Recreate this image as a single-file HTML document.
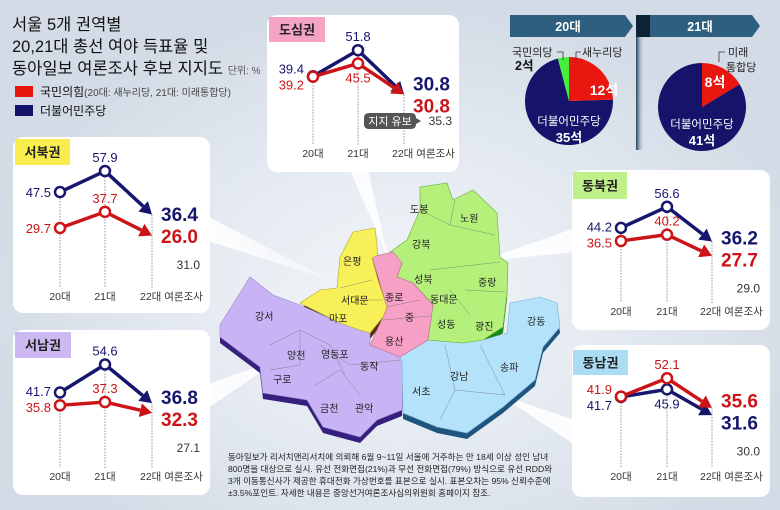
<!DOCTYPE html>
<html><head><meta charset="utf-8">
<style>
html,body{margin:0;padding:0}
body{width:780px;height:510px;overflow:hidden;position:relative;font-family:"Liberation Sans","Noto Sans CJK KR",sans-serif;
background:radial-gradient(ellipse 420px 300px at 400px 300px,#f3f6fa 0%,#e3e9f0 55%,#d3dbe6 100%);}
svg{position:absolute;left:0;top:0}
</style></head>
<body>
<svg id="main" width="780" height="510" viewBox="0 0 780 510" font-family="Liberation Sans, Noto Sans CJK KR, sans-serif">
<defs>
<linearGradient id="beam" x1="0" y1="0" x2="1" y2="0"><stop offset="0" stop-color="#fff" stop-opacity="0.95"/><stop offset="1" stop-color="#fff" stop-opacity="0.3"/></linearGradient>
<linearGradient id="div" x1="0" y1="0" x2="1" y2="0"><stop offset="0" stop-color="#1a3d5c"/><stop offset="1" stop-color="#c8d4e0" stop-opacity="0"/></linearGradient>
</defs>
<!-- title -->
<g font-size="16.5" fill="#111">
<text x="12" y="30">서울 5개 권역별</text>
<text x="12" y="52">20,21대 총선 여야 득표율 및</text>
<text x="12" y="74">동아일보 여론조사 후보 지지도 <tspan font-size="10" fill="#555">단위: %</tspan></text>
</g>
<g>
<rect x="15" y="86" width="18" height="11" fill="#e8150f"/>
<text x="40" y="96" font-size="12" fill="#111">국민의힘<tspan font-size="10" fill="#444">(20대: 새누리당, 21대: 미래통합당)</tspan></text>
<rect x="15" y="105" width="18" height="11" fill="#12126a"/>
<text x="40" y="115" font-size="12" fill="#111">더불어민주당</text>
</g>

<!-- seat pies -->
<g>
<path d="M510 15 H625 L633 26 L625 37 H510 Z" fill="#2f5f7e"/>
<text x="568" y="31" font-size="12.5" fill="#fff" text-anchor="middle" font-weight="bold">20대</text>
<rect x="636" y="15" width="8" height="135" fill="url(#div)"/>
<path d="M636 15 H752 L760 26 L752 37 H636 Z" fill="#2f5f7e"/>
<rect x="636" y="15" width="14" height="22" fill="#0e2236"/>
<text x="700" y="31" font-size="12.5" fill="#fff" text-anchor="middle" font-weight="bold">21대</text>
<g id="pies"></g>
</g>

<!-- beams -->
<g>
<polygon points="205,215 205,240 330,280" fill="url(#beam)"/>
<polygon points="350,170 368,170 388,258" fill="#fff" opacity="0.85"/>
<polygon points="575,228 575,252 478,262" fill="#fff" opacity="0.85"/>
<polygon points="205,385 205,410 282,358" fill="#fff" opacity="0.85"/>
<polygon points="575,420 575,445 500,395" fill="#fff" opacity="0.85"/>
</g>

<!-- map -->
<g font-size="10" fill="#222">
<g transform="translate(0,6)">
<polygon points="220,325 250,277 273,295 300,305 340,323 370,333 370,345 400,357 403,363 402,410 377,420 360,437 323,427 307,400 263,393 260,367 220,337" fill="#35207e"/>
<polygon points="428,340 463,343 483,340 507,333 510,303 540,297 557,303 560,327 543,347 535,380 503,407 467,433 437,427 403,413 402,363 400,357" fill="#1d5480"/>
<polygon points="390,252 407,240 420,210 420,187 447,183 453,200 473,190 497,213 500,257 508,263 507,293 503,327 483,340 463,343 428,340 433,305 413,283 397,277 402,263" fill="#178a1a"/>
<polygon points="372,257 393,252 402,263 397,277 413,283 433,305 428,340 400,357 370,345 383,317 387,307" fill="#6d0f30"/>
<polygon points="300,303 320,290 337,288 340,257 353,232 375,228 378,255 372,258 378,280 387,307 383,317 370,333 360,330 340,323" fill="#5a2e0c"/>
</g>
<polygon points="220,325 250,277 273,295 300,305 340,323 370,333 370,345 400,357 403,363 402,410 377,420 360,437 323,427 307,400 263,393 260,367 220,337" fill="#c8b4f4" stroke="#9a86cc" stroke-width="0.6"/>
<polygon points="428,340 463,343 483,340 507,333 510,303 540,297 557,303 560,327 543,347 535,380 503,407 467,433 437,427 403,413 402,363 400,357" fill="#b4e2fa" stroke="#7ab0d0" stroke-width="0.6"/>
<polygon points="390,252 407,240 420,210 420,187 447,183 453,200 473,190 497,213 500,257 508,263 507,293 503,327 483,340 463,343 428,340 433,305 413,283 397,277 402,263" fill="#b4f07a" stroke="#6aaa3a" stroke-width="0.6"/>
<polygon points="372,257 393,252 402,263 397,277 413,283 433,305 428,340 400,357 370,345 383,317 387,307" fill="#f6a0c6" stroke="#c06a90" stroke-width="0.6"/>
<polygon points="300,303 320,290 337,288 340,257 353,232 375,228 378,255 372,258 378,280 387,307 383,317 370,333 360,330 340,323" fill="#f8f058" stroke="#b0a830" stroke-width="0.6"/>
<g fill="none" stroke="#666" stroke-width="0.5" opacity="0.7">
<path d="M340,288 L372,280 M355,300 L383,300 M387,307 L420,300 M383,320 L430,316 M420,210 L450,225 L455,200 M450,225 L495,235 M430,270 L500,262 M450,290 L470,315 M465,290 L505,292 M270,345 L300,330 L330,345 L345,375 M300,330 L300,365 L270,370 M320,345 L350,365 L400,360 M315,385 L340,370 L360,395 M445,345 L455,390 L440,420 M480,345 L505,395 M455,390 L505,395"/>
</g>
<text x="410" y="213">도봉</text><text x="460" y="222">노원</text><text x="412" y="248">강북</text>
<text x="343" y="265">은평</text><text x="414" y="283">성북</text><text x="478" y="286">중랑</text>
<text x="341" y="304">서대문</text><text x="385" y="301">종로</text><text x="430" y="303">동대문</text>
<text x="255" y="320">강서</text><text x="329" y="322">마포</text><text x="405" y="321">중</text>
<text x="437" y="328">성동</text><text x="475" y="330">광진</text><text x="527" y="325">강동</text>
<text x="385" y="345">용산</text><text x="287" y="359">양천</text><text x="321" y="358">영등포</text>
<text x="360" y="370">동작</text><text x="273" y="383">구로</text><text x="450" y="380">강남</text>
<text x="500" y="371">송파</text><text x="412" y="395">서초</text><text x="320" y="412">금천</text><text x="355" y="412">관악</text>
</g>

<g id="panels"></g>

<g font-size="8.6" fill="#222">
<text x="228" y="460">동아일보가 리서치앤리서치에 의뢰해 6월 9~11일 서울에 거주하는 만 18세 이상 성인 남녀</text>
<text x="228" y="472">800명을 대상으로 실시. 유선 전화면접(21%)과 무선 전화면접(79%) 방식으로 유선 RDD와</text>
<text x="228" y="484">3개 이동통신사가 제공한 휴대전화 가상번호를 표본으로 실시. 표본오차는 95% 신뢰수준에</text>
<text x="228" y="496">±3.5%포인트. 자세한 내용은 중앙선거여론조사심의위원회 홈페이지 참조.</text>
</g>
</svg>

<script>
// ---- data ----
const xLabels = ['20대', '21대', '22대 여론조사'];
const regionNames = ['도심권', '서북권', '동북권', '서남권', '동남권'];
const dosimBlue = [39.4, 51.8, 30.8];
const dosimRed = [39.2, 45.5, 30.8];
const seobukBlue = [47.5, 57.9, 36.4];
const seobukRed = [29.7, 37.7, 26.0];
const dongbukBlue = [44.2, 56.6, 36.2];
const dongbukRed = [36.5, 40.2, 27.7];
const seonamBlue = [41.7, 54.6, 36.8];
const seonamRed = [35.8, 37.3, 32.3];
const dongnamBlue = [41.7, 45.9, 31.6];
const dongnamRed = [41.9, 52.1, 35.6];
const undecided = [35.3, 31.0, 29.0, 27.1, 30.0];
const seats20 = [35, 2, 12];   // 민주, 국민의당, 새누리
const seats21 = [41, 8];       // 민주, 미래통합

const blueSets = [dosimBlue, seobukBlue, dongbukBlue, seonamBlue, dongnamBlue];
const redSets = [dosimRed, seobukRed, dongbukRed, seonamRed, dongnamRed];

// ---- layout (not data) ----
const layouts = [
  {box:[267,15,192,157], tag:[269,17,56,25], tagColor:'#f5a3c5', xs:[313,358,404], a:159, b:2.1, ly:157, name:'panel-downtown'},
  {box:[13,137,197,176], tag:[15,139,55,26], tagColor:'#f8ec4e', xs:[60,105,152], a:288, b:2.02, ly:300, name:'panel-northwest'},
  {box:[572,170,198,160], tag:[573,172,54,27], tagColor:'#bff08a', xs:[621,667,712], a:303, b:1.7, ly:315, name:'panel-northeast'},
  {box:[13,330,197,165], tag:[15,332,56,26], tagColor:'#cdb9f2', xs:[60,105,152], a:483, b:2.17, ly:480, name:'panel-southwest'},
  {box:[572,345,198,152], tag:[573,350,55,25], tagColor:'#aadcf4', xs:[621,667,712], a:472, b:1.8, ly:480, name:'panel-southeast'}
];
const NS = 'http://www.w3.org/2000/svg';
const NAVY = '#16166e', RED = '#cc1418';
function el(tag, attrs, parent, txt) {
  const e = document.createElementNS(NS, tag);
  for (const k in attrs) e.setAttribute(k, attrs[k]);
  if (txt !== undefined) e.textContent = txt;
  parent.appendChild(e);
  return e;
}
const panelsG = document.getElementById('panels');

regionNames.forEach((rn, i) => {
  const L = layouts[i];
  const blue = blueSets[i], red = redSets[i];
  const yS = v => L.a - v * L.b;
  const g = el('g', {}, panelsG);
  
  
  const [bx, by, bw, bh] = L.box;
  const bg = el('rect', {x:bx, y:by, width:bw, height:bh, rx:10, fill:'#fff'}, g);
  
  
  const tg = el('rect', {x:L.tag[0], y:L.tag[1], width:L.tag[2], height:L.tag[3], fill:L.tagColor}, g);
  
  
  const tt = el('text', {x:L.tag[0] + L.tag[2]/2, y:L.tag[1] + L.tag[3]/2 + 5, 'font-size':13, 'font-weight':'bold', 'text-anchor':'middle', fill:'#222'}, g, rn);
  
  

  // dotted guides and x labels
  L.xs.forEach((x, k) => {
    const top = Math.min(yS(blue[k]), yS(red[k]));
    const gl = el('line', {x1:x, x2:x, y1:top, y2:L.ly - 12, stroke:'#777', 'stroke-width':0.8, 'stroke-dasharray':'1.5,1.5'}, g);
    
    
    const xl = el('text', {x: k < 2 ? x : x - 12, y:L.ly, 'font-size':10.5, fill:'#333', 'text-anchor': k < 2 ? 'middle' : 'start'}, g, xLabels[k]);
    
    
  });

  const blueTop = blue[1] >= red[1];
  const series = [{vals:blue, col:NAVY, nm:'dem'}, {vals:red, col:RED, nm:'ppp'}];
  series.forEach((s) => {
    const pts = s.vals.map((v, k) => [L.xs[k], yS(v)]);
    const ln = el('polyline', {points:`${pts[0][0]},${pts[0][1]} ${pts[1][0]},${pts[1][1]}`, fill:'none', stroke:s.col, 'stroke-width':3.5}, g);
    
    
    // arrow segment
    const dx = pts[2][0] - pts[1][0], dy = pts[2][1] - pts[1][1];
    const len = Math.hypot(dx, dy), ux = dx / len, uy = dy / len;
    const bxp = pts[2][0] - ux * 12, byp = pts[2][1] - uy * 12;
    const seg = el('line', {x1:pts[1][0], y1:pts[1][1], x2:bxp, y2:byp, stroke:s.col, 'stroke-width':3.5}, g);
    
    
    const px = -uy, py = ux;
    const ah = el('polygon', {points:`${pts[2][0]},${pts[2][1]} ${bxp + px*7},${byp + py*7} ${bxp - px*7},${byp - py*7}`, fill:s.col}, g);
    
    
  });
  series.forEach((s) => {
    for (let k = 0; k < 2; k++) {
      const c = el('circle', {cx:L.xs[k], cy:yS(s.vals[k]), r:5, fill:'#fff', stroke:s.col, 'stroke-width':2.5}, g);
      
      
    }
  });
  // 20대 labels (left)
  let yb0 = yS(blue[0]), yr0 = yS(red[0]);
  if (Math.abs(yb0 - yr0) < 16) {
    const m = (yb0 + yr0) / 2;
    if (yb0 <= yr0) { yb0 = m - 8; yr0 = m + 8; } else { yr0 = m - 8; yb0 = m + 8; }
  }
  const l1 = el('text', {x:L.xs[0] - 9, y:yb0 + 5, 'font-size':13, fill:NAVY, 'text-anchor':'end'}, g, blue[0].toFixed(1));
  
  
  const l2 = el('text', {x:L.xs[0] - 9, y:yr0 + 5, 'font-size':13, fill:RED, 'text-anchor':'end'}, g, red[0].toFixed(1));
  
  
  // 21대 labels
  const yb1 = yS(blue[1]), yr1 = yS(red[1]);
  const gap = Math.abs(yb1 - yr1);
  const upper = blueTop ? {v:blue[1], y:yb1, c:NAVY} : {v:red[1], y:yr1, c:RED};
  const lower = blueTop ? {v:red[1], y:yr1, c:RED} : {v:blue[1], y:yb1, c:NAVY};
  const u = el('text', {x:L.xs[1], y:upper.y - 9, 'font-size':13, fill:upper.c, 'text-anchor':'middle'}, g, upper.v.toFixed(1));
  
  
  const lw = el('text', {x:L.xs[1], y: gap < 25 ? lower.y + 19 : lower.y - 9, 'font-size':13, fill:lower.c, 'text-anchor':'middle'}, g, lower.v.toFixed(1));
  
  
  // poll labels
  const ybp = yS(blue[2]), yrp = yS(red[2]);
  const topP = blue[2] >= red[2] ? {v:blue[2], c:NAVY, y:ybp} : {v:red[2], c:RED, y:yrp};
  const botP = blue[2] >= red[2] ? {v:red[2], c:RED, y:yrp} : {v:blue[2], c:NAVY, y:ybp};
  let t1 = topP.y, t2 = botP.y;
  if (t2 - t1 < 22) { const m = (t1 + t2) / 2; t1 = m - 11; t2 = m + 11; }
  const p1 = el('text', {x:L.xs[2] + 9, y:t1 + 7, 'font-size':19, 'font-weight':'bold', fill:topP.c}, g, topP.v.toFixed(1));
  
  
  const p2 = el('text', {x:L.xs[2] + 9, y:t2 + 7, 'font-size':19, 'font-weight':'bold', fill:botP.c}, g, botP.v.toFixed(1));
  
  
  if (i === 0) {
    const ub = el('g', {}, g);
    
    
    el('path', {d:'M369 113 H411 Q416 113 416 118 V118 L421 121 L416 124 V124 Q416 129 411 129 H369 Q364 129 364 124 V118 Q364 113 369 113 Z', fill:'#555'}, ub);
    el('text', {x:390, y:125, 'font-size':11, fill:'#fff', 'text-anchor':'middle'}, ub, '지지 유보');
    const uv = el('text', {x:452, y:125, 'font-size':12, fill:'#333', 'text-anchor':'end'}, g, undecided[i].toFixed(1));
    
    
  } else {
    const uv = el('text', {x:bx + bw - 10, y:t2 + 33, 'font-size':12, fill:'#333', 'text-anchor':'end'}, g, undecided[i].toFixed(1));
    
    
  }
});

// ---- pies ----
const pies = document.getElementById('pies');
function arc(cx, cy, r, a0, a1, fill, parent) {
  const p = a => [cx + r * Math.sin(a), cy - r * Math.cos(a)];
  const [x0, y0] = p(a0), [x1, y1] = p(a1);
  const large = (a1 - a0) > Math.PI ? 1 : 0;
  return el('path', {d:`M${cx},${cy} L${x0},${y0} A${r},${r} 0 ${large} 1 ${x1},${y1} Z`, fill}, parent);
}
(function () {
  const tot = seats20.reduce((a, b) => a + b, 0);
  const cx = 569, cy = 101, r = 44;
  const aRed = seats20[2] / tot * 2 * Math.PI, aGreen = seats20[1] / tot * 2 * Math.PI;
  const s1 = arc(cx, cy, r, aRed, 2 * Math.PI - aGreen, '#15136a', pies);
  
  
  const s2 = arc(cx, cy, r, 2 * Math.PI - aGreen, 2 * Math.PI, '#44ee3a', pies);
  
  
  const s3 = arc(cx, cy, r, 0, aRed, '#ea1610', pies);
  
  
  el('text', {x:604, y:95, 'font-size':14, 'font-weight':'bold', fill:'#fff', 'text-anchor':'middle'}, pies, seats20[2] + '석');
  el('text', {x:569, y:125, 'font-size':11.5, fill:'#fff', 'text-anchor':'middle'}, pies, '더불어민주당');
  el('text', {x:569, y:142, 'font-size':13, 'font-weight':'bold', fill:'#fff', 'text-anchor':'middle'}, pies, seats20[0] + '석');
  el('text', {x:512, y:56, 'font-size':11, fill:'#222'}, pies, '국민의당');
  el('text', {x:515, y:70, 'font-size':12.5, 'font-weight':'bold', fill:'#111'}, pies, seats20[1] + '석');
  el('path', {d:'M557 52 H563 V60 M576 60 V52 H581', fill:'none', stroke:'#333', 'stroke-width':0.8}, pies);
  el('text', {x:582, y:56, 'font-size':11, fill:'#222'}, pies, '새누리당');
})();
(function () {
  const tot = seats21.reduce((a, b) => a + b, 0);
  const cx = 702, cy = 107, r = 44;
  const aRed = seats21[1] / tot * 2 * Math.PI;
  const s1 = arc(cx, cy, r, aRed, 2 * Math.PI, '#15136a', pies);
  
  
  const s2 = arc(cx, cy, r, 0, aRed, '#ea1610', pies);
  
  
  el('text', {x:715, y:87, 'font-size':14, 'font-weight':'bold', fill:'#fff', 'text-anchor':'middle'}, pies, seats21[1] + '석');
  el('text', {x:702, y:128, 'font-size':11.5, fill:'#fff', 'text-anchor':'middle'}, pies, '더불어민주당');
  el('text', {x:702, y:145, 'font-size':13, 'font-weight':'bold', fill:'#fff', 'text-anchor':'middle'}, pies, seats21[0] + '석');
  el('path', {d:'M719 62 V52 H725', fill:'none', stroke:'#333', 'stroke-width':0.8}, pies);
  el('text', {x:728, y:56, 'font-size':11, fill:'#222'}, pies, '미래');
  el('text', {x:726, y:71, 'font-size':11, fill:'#222'}, pies, '통합당');
})();
</script>
</body></html>
